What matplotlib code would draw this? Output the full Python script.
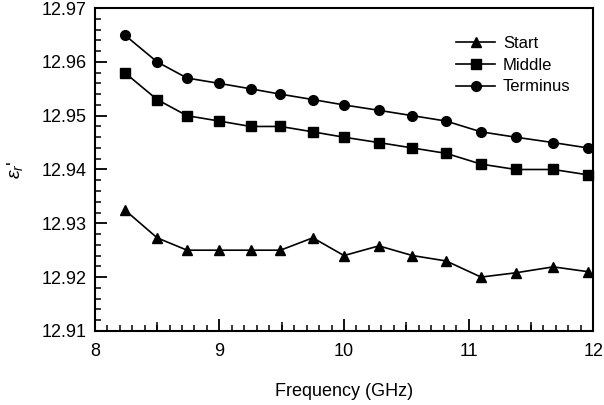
import numpy as np
import matplotlib
matplotlib.use("Agg")
import matplotlib.pyplot as plt
from matplotlib.ticker import MultipleLocator, FixedLocator

plt.rcParams['font.family'] = ['Liberation Sans', 'DejaVu Sans']
plt.rcParams['mathtext.fontset'] = 'custom'
plt.rcParams['mathtext.rm'] = 'Liberation Sans'
plt.rcParams['mathtext.it'] = 'Liberation Sans:italic'

# frequency points (GHz)
freq = [8.24, 8.50, 8.74, 9.00, 9.25, 9.49, 9.75, 10.00,
        10.28, 10.55, 10.82, 11.10, 11.38, 11.68, 11.96]

# permittivity, real part
start = [12.9325, 12.9273, 12.925, 12.925, 12.925, 12.925, 12.9273, 12.924,
         12.9258, 12.924, 12.923, 12.920, 12.9208, 12.9219, 12.921]
middle = [12.958, 12.953, 12.950, 12.949, 12.948, 12.948, 12.947, 12.946,
          12.945, 12.944, 12.943, 12.941, 12.940, 12.940, 12.939]
terminus = [12.965, 12.960, 12.957, 12.956, 12.955, 12.954, 12.953, 12.952,
            12.951, 12.950, 12.949, 12.947, 12.946, 12.945, 12.944]

fig = plt.figure(figsize=(6.04, 4.05), dpi=100)
ax = fig.add_axes([0.157, 0.183, 0.825, 0.797])

ax.plot(freq, start, '-^', color='black', lw=1.2, ms=7, label='Start', clip_on=False)
ax.plot(freq, middle, '-s', color='black', lw=1.2, ms=7, label='Middle', clip_on=False)
ax.plot(freq, terminus, '-o', color='black', lw=1.2, ms=7, label='Terminus', clip_on=False)

ax.set_xlim(8, 12)
ax.set_ylim(12.91, 12.97)
ax.xaxis.set_major_locator(MultipleLocator(1))
ax.xaxis.set_minor_locator(MultipleLocator(0.1))
ax.yaxis.set_major_locator(MultipleLocator(0.01))
ax.yaxis.set_minor_locator(MultipleLocator(0.002))
ax.yaxis.set_major_formatter(plt.FormatStrFormatter('%.2f'))

ax.tick_params(which='major', direction='in', length=8.5, width=1.3, labelsize=13,
               top=False, right=False)
ax.tick_params(axis='x', which='major', pad=9)
ax.tick_params(axis='y', which='major', pad=6)
ax.tick_params(which='minor', direction='in', length=4.5, width=1.1,
               top=False, right=False)
for s in ax.spines.values():
    s.set_linewidth(1.5)

# medium ticks at half-GHz
sec = ax.secondary_xaxis('bottom')
sec.xaxis.set_major_locator(FixedLocator([8.5, 9.5, 10.5, 11.5]))
sec.tick_params(direction='in', length=6.5, width=1.1, labelbottom=False)
sec.spines['bottom'].set_visible(False)

ax.set_xlabel('Frequency (GHz)', fontsize=13, labelpad=16)
ax.set_ylabel(r"$\varepsilon_r$'", fontsize=14, labelpad=12)

ax.legend(loc='upper right', frameon=False, fontsize=12, handlelength=2.3,
          handletextpad=0.5, labelspacing=0.4, bbox_to_anchor=(0.985, 0.96))

fig.savefig('out.png', dpi=100)
